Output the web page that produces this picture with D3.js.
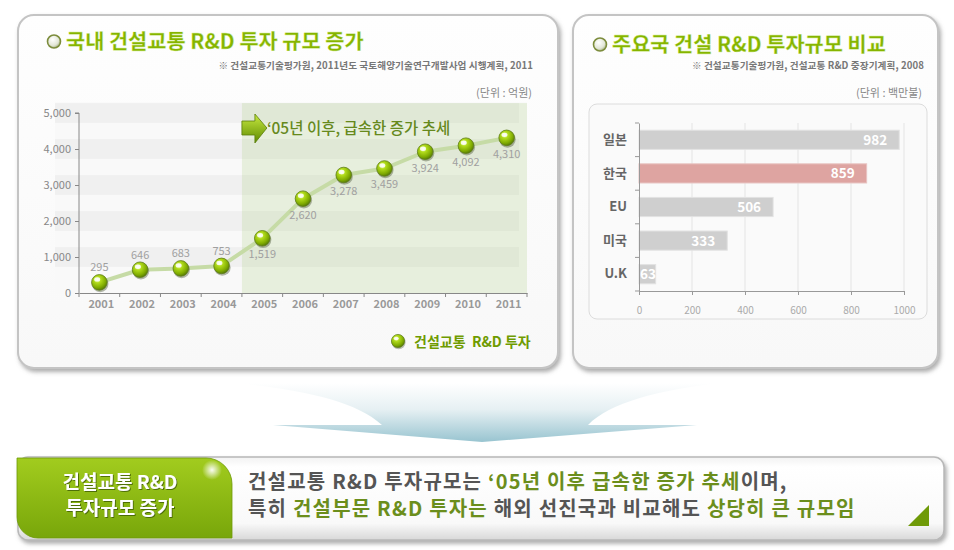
<!DOCTYPE html>
<html><head><meta charset="utf-8">
<script src="https://cdn.jsdelivr.net/npm/d3@7"></script>
<style>
html,body{margin:0;padding:0;background:#fff;}
svg{display:block;}
text{font-family:"Noto Sans CJK KR","Noto Sans",sans-serif;}
</style></head>
<body>
<svg id="c" width="954" height="550"></svg>
<script>
// ---- data ----
const years = ["2001","2002","2003","2004","2005","2006","2007","2008","2009","2010","2011"];
const investment = [295,646,683,753,1519,2620,3278,3459,3924,4092,4310];
const yTicks = [0,1000,2000,3000,4000,5000];
const highlightFrom = "2005";
const countries = ["일본","한국","EU","미국","U.K"];
const countryValues = [982,859,506,333,63];
const highlightCountry = "한국";
const xTicksBar = [0,200,400,600,800,1000];

const svg = d3.select("#c");
const defs = svg.append("defs");

// filters & gradients
const sh = defs.append("filter").attr("id","shadow").attr("x","-10%").attr("y","-10%").attr("width","125%").attr("height","130%");
sh.append("feDropShadow").attr("dx",2).attr("dy",3).attr("stdDeviation",2.2).attr("flood-color","#777").attr("flood-opacity",0.6);
const tsh = defs.append("filter").attr("id","tshadow");
tsh.append("feDropShadow").attr("dx",1).attr("dy",1).attr("stdDeviation",0.6).attr("flood-color","#335000").attr("flood-opacity",0.7);

const ball = defs.append("radialGradient").attr("id","ball").attr("cx","38%").attr("cy","32%").attr("r","70%");
ball.append("stop").attr("offset","0%").attr("stop-color","#f4ffc0");
ball.append("stop").attr("offset","30%").attr("stop-color","#b2dc1c");
ball.append("stop").attr("offset","75%").attr("stop-color","#7eaa00");
ball.append("stop").attr("offset","100%").attr("stop-color","#56780a");

const ring = defs.append("radialGradient").attr("id","ring").attr("cx","40%").attr("cy","35%").attr("r","65%");
ring.append("stop").attr("offset","0%").attr("stop-color","#ffffff");
ring.append("stop").attr("offset","70%").attr("stop-color","#e2e6d6");
ring.append("stop").attr("offset","100%").attr("stop-color","#aab58a");

const panelG = defs.append("linearGradient").attr("id","panelG").attr("x1",0).attr("y1",0).attr("x2",0).attr("y2",1);
panelG.append("stop").attr("offset","0%").attr("stop-color","#fefefe");
panelG.append("stop").attr("offset","100%").attr("stop-color","#f8f8f8");

const wedgeG = defs.append("linearGradient").attr("id","wedgeG").attr("x1",0).attr("y1",0).attr("x2",0).attr("y2",1);
wedgeG.append("stop").attr("offset","0%").attr("stop-color","#ffffff");
wedgeG.append("stop").attr("offset","45%").attr("stop-color","#e6f0f3");
wedgeG.append("stop").attr("offset","100%").attr("stop-color","#98c4d0");

const tabG = defs.append("linearGradient").attr("id","tabG").attr("x1",0).attr("y1",0).attr("x2",0).attr("y2",1);
tabG.append("stop").attr("offset","0%").attr("stop-color","#a2cc1e");
tabG.append("stop").attr("offset","100%").attr("stop-color","#78a60a");

const bannerG = defs.append("linearGradient").attr("id","bannerG").attr("x1",0).attr("y1",0).attr("x2",0).attr("y2",1);
bannerG.append("stop").attr("offset","0%").attr("stop-color","#f2f2f2");
bannerG.append("stop").attr("offset","12%").attr("stop-color","#ffffff");
bannerG.append("stop").attr("offset","80%").attr("stop-color","#f9f9f9");
bannerG.append("stop").attr("offset","100%").attr("stop-color","#d8d8d8");

const glow = defs.append("radialGradient").attr("id","glow");
glow.append("stop").attr("offset","0%").attr("stop-color","#fff").attr("stop-opacity",0.95);
glow.append("stop").attr("offset","100%").attr("stop-color","#fff").attr("stop-opacity",0);

const arrowG = defs.append("linearGradient").attr("id","arrowG").attr("x1",0).attr("y1",0).attr("x2",0).attr("y2",1);
arrowG.append("stop").attr("offset","0%").attr("stop-color","#c8ea40");
arrowG.append("stop").attr("offset","100%").attr("stop-color","#5e8a00");

// ---- panels ----
svg.append("rect").attr("x",18).attr("y",15).attr("width",540).attr("height",353).attr("rx",16)
  .attr("fill","url(#panelG)").attr("stroke","#c4c4c4").attr("stroke-width",2).attr("filter","url(#shadow)");
svg.append("rect").attr("x",573).attr("y",15).attr("width",365).attr("height",353).attr("rx",16)
  .attr("fill","url(#panelG)").attr("stroke","#c4c4c4").attr("stroke-width",2).attr("filter","url(#shadow)");

function titleRow(x, y, label, size){
  svg.append("circle").attr("cx",x).attr("cy",y-7.5).attr("r",6.5).attr("fill","url(#ring)").attr("stroke","#7c8c3c").attr("stroke-width",1.6);
  svg.append("text").attr("x",x+12).attr("y",y).attr("font-size",size).attr("font-weight",700)
    .attr("fill","#86b400").attr("stroke","#d8f0a0").attr("stroke-width",0.3).text(label);
}
titleRow(54, 49, "국내 건설교통 R&D 투자 규모 증가", 20.8);
titleRow(600, 52, "주요국 건설 R&D 투자규모 비교", 20.8);

svg.append("text").attr("x",533).attr("y",69).attr("text-anchor","end").attr("font-size",9.6).attr("font-weight",700)
  .attr("fill","#777").attr("letter-spacing",0.1).text("※ 건설교통기술평가원, 2011년도 국토해양기술연구개발사업 시행계획, 2011");
svg.append("text").attr("x",532).attr("y",97).attr("text-anchor","end").attr("font-size",11)
  .attr("fill","#888").text("(단위 : 억원)");
svg.append("text").attr("x",924).attr("y",69).attr("text-anchor","end").attr("font-size",9.6).attr("font-weight",700)
  .attr("fill","#777").attr("letter-spacing",0.1).text("※ 건설교통기술평가원, 건설교통 R&D 중장기계획, 2008");
svg.append("text").attr("x",922).attr("y",97).attr("text-anchor","end").attr("font-size",11)
  .attr("fill","#888").text("(단위 : 백만불)");

// ---- left line chart ----
const x = d3.scaleBand().domain(years).range([79,527]);
const y = d3.scaleLinear().domain([0,5000]).range([293,113]);
const cx = d => x(d) + x.bandwidth()/2;

const L = svg.append("g");
L.append("rect").attr("x",55).attr("y",y(5300)).attr("width",472).attr("height",y(0)-y(5300)).attr("fill","#f9f9f9");
L.selectAll(".stripe").data(yTicks.filter(v=>v>0)).join("rect")
  .attr("x",55).attr("width",464).attr("y",d=>y(d+275)).attr("height",d=>y(d-275)-y(d+275)).attr("fill","#f0f0f0");
L.append("rect").attr("x",x(highlightFrom)).attr("y",y(5275)).attr("width",527-x(highlightFrom)).attr("height",y(0)-y(5275))
  .attr("fill","rgb(160,198,110)").attr("fill-opacity",0.2);

// axes
const yAx = L.append("g").attr("transform","translate(79,0)")
  .call(d3.axisLeft(y).tickValues(yTicks).tickSize(4).tickPadding(4).tickFormat(d3.format(",")));
yAx.select(".domain").attr("stroke","#888").attr("d","M-4,"+y(5000)+"H0V"+y(0));
yAx.selectAll(".tick line").attr("stroke","#888");
yAx.selectAll("text").attr("fill","#888").attr("font-size",11).attr("font-family","'Open Sans',sans-serif");

const xAx = L.append("g").attr("transform","translate(0,293)")
  .call(d3.axisBottom(x).tickSize(0).tickPadding(7));
xAx.select(".domain").attr("stroke","#888").attr("stroke-width",1.2);
xAx.selectAll("text").attr("fill","#999").attr("font-size",11).attr("font-weight",600).attr("font-family","'Open Sans',sans-serif").attr("dx",2);
L.selectAll(".xt").data(years).join("line")
  .attr("x1",d=>x(d)).attr("x2",d=>x(d)).attr("y1",293).attr("y2",297).attr("stroke","#888");
L.append("line").attr("x1",527).attr("x2",527).attr("y1",293).attr("y2",297).attr("stroke","#888");

// line
const pts = years.map((yr,i)=>({yr, v:investment[i]}));
L.append("path").datum(pts).attr("fill","none").attr("stroke","#c6dba6").attr("stroke-width",4).attr("stroke-linejoin","round")
  .attr("d", d3.line().x(d=>cx(d.yr)).y(d=>y(d.v)));

// markers
const mk = L.selectAll(".mk").data(pts).join("g").attr("transform",d=>`translate(${cx(d.yr)},${y(d.v)})`);
mk.append("circle").attr("cx",0.8).attr("cy",1.5).attr("r",8.3).attr("fill","#556040").attr("opacity",0.45);
mk.append("circle").attr("r",7.8).attr("fill","url(#ball)").attr("stroke","#5f7d1a").attr("stroke-width",0.8);
mk.append("ellipse").attr("cx",-2.2).attr("cy",-3).attr("rx",3).attr("ry",2.2).attr("fill","#fff").attr("opacity",0.85);

// value labels
L.selectAll(".vl").data(pts).join("text")
  .attr("x",d=>cx(d.yr)).attr("y",d=> d.v < 1000 ? y(d.v)-11 : y(d.v)+20)
  .attr("text-anchor","middle").attr("font-size",11).attr("fill","#a0a0a0").attr("font-family","'Open Sans',sans-serif")
  .text(d=>d3.format(",")(d.v));

// annotation arrow + text
const ax0 = x(highlightFrom);
L.append("path").attr("d",`M${ax0},${121}h13v-7l12,14l-12,15v-8h-13z`)
  .attr("fill","url(#arrowG)").attr("stroke","#5a7f0a").attr("stroke-width",0.8);
L.append("text").attr("x",ax0+25).attr("y",134).attr("font-size",15.5).attr("fill","#66891c").attr("font-weight",500)
  .text("‘05년 이후, 급속한 증가 추세");

// legend
const lg = svg.append("g").attr("transform","translate(398,341)");
lg.append("circle").attr("cx",0.6).attr("cy",1.2).attr("r",7).attr("fill","#556040").attr("opacity",0.4);
lg.append("circle").attr("r",6.6).attr("fill","url(#ball)").attr("stroke","#5f7d1a").attr("stroke-width",0.7);
lg.append("ellipse").attr("cx",-1.8).attr("cy",-2.5).attr("rx",2.5).attr("ry",1.8).attr("fill","#fff").attr("opacity",0.85);
lg.append("text").attr("x",16).attr("y",5.5).attr("font-size",14).attr("font-weight",700).attr("fill","#6f9b00")
  .attr("xml:space","preserve").text("건설교통  R&D 투자");

// ---- right bar chart ----
svg.append("rect").attr("x",589).attr("y",104).attr("width",338).attr("height",215).attr("rx",8)
  .attr("fill","#fafafa").attr("stroke","#dcdcdc").attr("stroke-width",1);

const xb = d3.scaleLinear().domain([0,1000]).range([639,904]);
const yb = d3.scaleBand().domain(countries).range([123,291]);
const R = svg.append("g");
R.selectAll(".grid").data(xTicksBar.filter(v=>v>0)).join("line")
  .attr("x1",d=>xb(d)).attr("x2",d=>xb(d)).attr("y1",123).attr("y2",291).attr("stroke","#e4e4e4");

const bh = yb.bandwidth()*0.57;
const bars = countries.map((c,i)=>({c, v:countryValues[i]}));
R.selectAll(".bar").data(bars).join("rect")
  .attr("x",xb(0)).attr("y",d=>yb(d.c)+yb.bandwidth()/2-bh/2).attr("width",d=>xb(d.v)-xb(0)).attr("height",bh)
  .attr("fill",d=>d.c===highlightCountry ? "#dea4a1" : "#cfcfcf")
  .attr("stroke",d=>d.c===highlightCountry ? "#e8c4c2" : "#e2e2e2").attr("stroke-width",1);
R.selectAll(".bv").data(bars).join("text")
  .attr("x",d=> (xb(d.v)-xb(0)) < 40 ? xb(0)+1 : xb(d.v)-12)
  .attr("text-anchor",d=> (xb(d.v)-xb(0)) < 40 ? "start" : "end")
  .attr("y",d=>yb(d.c)+yb.bandwidth()/2+5).attr("font-size",13.5).attr("font-weight",700).attr("fill","#fff")
  .attr("font-family","'Open Sans',sans-serif").text(d=>d.v);

const ybAx = R.append("g").attr("transform","translate(639,0)").call(d3.axisLeft(yb).tickSize(0).tickPadding(12));
ybAx.select(".domain").attr("stroke","#999");
ybAx.selectAll("text").attr("fill","#666").attr("font-size",13).attr("font-weight",700);
R.selectAll(".ybt").data(countries).join("line")
  .attr("x1",635).attr("x2",639).attr("y1",d=>yb(d)).attr("y2",d=>yb(d)).attr("stroke","#999");
R.append("line").attr("x1",635).attr("x2",639).attr("y1",291).attr("y2",291).attr("stroke","#999");

const xbAx = R.append("g").attr("transform","translate(0,291)")
  .call(d3.axisBottom(xb).tickValues(xTicksBar).tickSize(4).tickPadding(12).tickFormat(d3.format("d")));
xbAx.select(".domain").attr("stroke","#999");
xbAx.selectAll(".tick line").attr("stroke","#999");
xbAx.selectAll("text").attr("fill","#aaa").attr("font-size",10).attr("font-family","'Open Sans',sans-serif");

// ---- bottom wedge ----
svg.append("path")
  .attr("d","M482,442 L273,425 L382,425 C355,400 300,390 237,383 L720,383 C660,390 610,402 588,425 L697,425 Z")
  .attr("fill","url(#wedgeG)");

// ---- bottom banner ----
svg.append("rect").attr("x",18).attr("y",457).attr("width",926).attr("height",83).attr("rx",10)
  .attr("fill","url(#bannerG)").attr("stroke","#b8b8b8").attr("stroke-width",1.5).attr("filter","url(#shadow)");
svg.append("path").attr("d","M17,458 H206 A26,26 0 0 1 232,484 V538 H38 A21,21 0 0 1 17,517 Z")
  .attr("fill","url(#tabG)").attr("stroke","#6f9a08").attr("stroke-width",0.8);
svg.append("circle").attr("cx",212).attr("cy",470).attr("r",10).attr("fill","url(#glow)");

svg.append("text").attr("x",120).attr("y",489).attr("text-anchor","middle").attr("font-size",19).attr("font-weight",700)
  .attr("fill","#fff").attr("filter","url(#tshadow)").text("건설교통 R&D");
svg.append("text").attr("x",120).attr("y",515).attr("text-anchor","middle").attr("font-size",19).attr("font-weight",700)
  .attr("fill","#fff").attr("filter","url(#tshadow)").text("투자규모 증가");

const line1 = [["건설교통 R&D 투자규모는 ","#555"],["‘05년 이후 급속한 증가 추세","#6b8e1c"],["이며,","#555"]];
const line2 = [["특히 ","#555"],["건설부문 R&D 투자는","#6b8e1c"],[" 해외 선진국과 비교해도 ","#555"],["상당히 큰 규모임","#6b8e1c"]];
function richLine(parts, yy){
  const t = svg.append("text").attr("x",248).attr("y",yy).attr("font-size",20).attr("font-weight",700)
    .attr("letter-spacing",1.2).attr("xml:space","preserve");
  t.selectAll("tspan").data(parts).join("tspan").attr("fill",d=>d[1]).text(d=>d[0]);
}
richLine(line1, 489);
richLine(line2, 516);

svg.append("path").attr("d","M908,526 L929,526 L929,505 Z").attr("fill","#6f9a08");
</script>
</body></html>
